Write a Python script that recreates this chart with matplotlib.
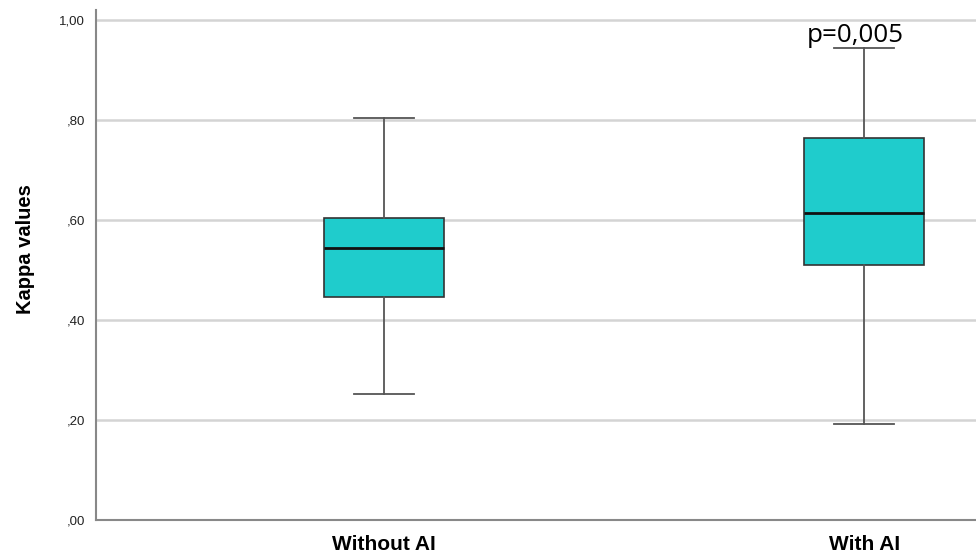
import numpy as np
import matplotlib.pyplot as plt

# SPSS style boxplot, kappa values with and without AI
groups = ["Without AI", "With AI"]
whisker_low = [0.252, 0.192]
q1 = [0.447, 0.510]
median = [0.545, 0.615]
q3 = [0.605, 0.765]
whisker_high = [0.805, 0.945]
yticks = [0.0, 0.2, 0.4, 0.6, 0.8, 1.0]
ytick_labels = [",00", ",20", ",40", ",60", ",80", "1,00"]
p_text = "p=0,005"

stats = []
for i, g in enumerate(groups):
    stats.append({"label": g, "whislo": whisker_low[i], "q1": q1[i], "med": median[i],
                  "q3": q3[i], "whishi": whisker_high[i], "fliers": []})

fig = plt.figure(figsize=(9.76, 5.54), dpi=100)
ax = fig.add_axes([96/976, 34/554, 880/976, 510/554])

pos = np.arange(len(groups))
ax.bxp(stats, positions=pos, widths=0.25, patch_artist=True, showfliers=False,
       boxprops=dict(facecolor="#1fcccc", edgecolor="#333333", linewidth=1.2),
       medianprops=dict(color="#111111", linewidth=2),
       whiskerprops=dict(color="#555555", linewidth=1.3),
       capprops=dict(color="#555555", linewidth=1.3),
       capwidths=0.125, zorder=3)

ax.set_xlim(-0.6, 1.233)
ax.set_ylim(0, 1.02)
ax.set_yticks(yticks)
ax.set_yticklabels(ytick_labels, fontsize=9.5, family="Liberation Sans", color="#222222")
ax.set_xticks(pos)
ax.set_xticklabels(groups, fontsize=15, fontweight="bold", family="Liberation Sans")
ax.tick_params(axis="both", length=0)
ax.tick_params(axis="y", pad=8)
ax.tick_params(axis="x", pad=11)

ax.grid(axis="y", color="#d4d4d4", linewidth=1.8, zorder=0)
ax.set_axisbelow(True)
for s in ["top", "right"]:
    ax.spines[s].set_visible(False)
for s in ["left", "bottom"]:
    ax.spines[s].set_color("#888888")
    ax.spines[s].set_linewidth(1.5)

ax.set_ylabel("Kappa values", fontsize=14.5, fontweight="bold", family="Liberation Sans")
ax.yaxis.set_label_coords(-61/880, 1 - (249 - 10) / 510)

ax.text(0.981, 0.956, p_text, ha="center", va="baseline", fontsize=18.7, family="Open Sans")

fig.savefig("out.png", dpi=100, facecolor="white")
